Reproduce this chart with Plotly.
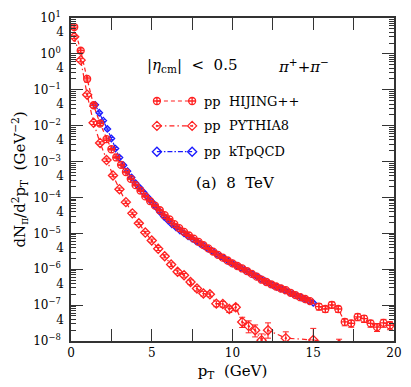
import plotly.graph_objects as go

# ---------------- data ----------------
hij_x = [0.2, 0.6, 1.0, 1.4, 1.8, 2.2,
         2.5, 2.8, 3.1, 3.4, 3.7, 4.0, 4.3, 4.6, 4.9, 5.2, 5.5, 5.8, 6.1, 6.4,
         6.7, 7.0, 7.3, 7.6, 7.9, 8.2, 8.5, 8.8, 9.1, 9.4, 9.7, 10.0, 10.3, 10.6,
         10.9, 11.2, 11.5, 11.8, 12.1, 12.4, 12.7, 13.0, 13.3, 13.6, 13.9, 14.2,
         14.5, 14.8,
         15.35, 15.75, 16.15, 16.55, 16.95, 17.35, 17.75, 18.15, 18.55, 18.95,
         19.35, 19.75]
hij_y = [5.6, 1.23, 0.20, 0.037, 0.0115, 4.2e-3,
         2.2e-3, 1.3e-3, 8.1e-4, 5.1e-4, 3.3e-4, 2.2e-4, 1.55e-4, 1.07e-4, 7.9e-5,
         5.9e-5, 4.4e-5, 3.2e-5, 2.45e-5, 1.8e-5, 1.4e-5, 1.1e-5, 8.7e-6, 7.1e-6,
         5.8e-6, 4.7e-6, 3.8e-6, 3.1e-6, 2.5e-6, 2.1e-6, 1.75e-6, 1.45e-6, 1.23e-6,
         1.05e-6, 8.9e-7, 7.4e-7, 6.2e-7, 5.1e-7, 4.4e-7, 3.8e-7, 3.3e-7, 2.9e-7,
         2.6e-7, 2.2e-7, 1.9e-7, 1.66e-7, 1.48e-7, 1.29e-7,
         9.1e-8, 7.8e-8, 1.02e-7, 7.8e-8, 3.4e-8, 3.1e-8, 4.7e-8, 4.2e-8, 3.1e-8,
         2.45e-8, 3.2e-8, 2.75e-8]
hij_rel = [0.12, 0.12, 0.12, 0.12, 0.12, 0.08,
           0.05, 0.05, 0.05, 0.05, 0.05, 0.05, 0.05, 0.05, 0.05, 0.06, 0.06, 0.06,
           0.06, 0.06, 0.06, 0.06, 0.06, 0.06, 0.06, 0.06, 0.06, 0.06, 0.06, 0.06,
           0.06, 0.08, 0.08, 0.08, 0.08, 0.08, 0.08, 0.08, 0.1, 0.1, 0.1, 0.1, 0.1,
           0.1, 0.1, 0.1, 0.1, 0.12,
           0.2, 0.2, 0.2, 0.2, 0.22, 0.22, 0.22, 0.22, 0.22, 0.25, 0.25, 0.25]

pyt_x = [0.2, 0.6, 1.0, 1.4, 1.8, 2.2, 2.6, 3.0, 3.4, 3.8, 4.2, 4.6, 5.0, 5.4,
         5.8, 6.2, 6.6, 7.0, 7.4, 7.8, 8.2, 8.6, 9.0, 9.4, 9.8, 10.2, 10.6, 11.0,
         11.4, 11.8, 12.2, 13.3, 15.0, 16.6]
pyt_y = [3.0, 0.67, 0.073, 0.012, 3.3e-3, 1.1e-3, 4.1e-4, 1.7e-4, 7.4e-5, 3.6e-5,
         1.9e-5, 1.05e-5, 6.3e-6, 3.7e-6, 2.3e-6, 1.35e-6, 8.5e-7, 6.8e-7, 4.4e-7,
         2.9e-7, 2.1e-7, 2.0e-7, 1.1e-7, 1.07e-7, 7.8e-8, 8.7e-8, 3.4e-8, 2.6e-8,
         2.0e-8, 1.05e-8, 2.0e-8, 1.2e-8, 1.07e-8, 8.0e-9]
pyt_rel_up = [0.1, 0.1, 0.1, 0.1, 0.08, 0.08, 0.08, 0.08, 0.08, 0.08, 0.08, 0.08,
              0.1, 0.1, 0.1, 0.12, 0.12, 0.12, 0.15, 0.15, 0.15, 0.15, 0.18, 0.18,
              0.2, 0.2, 0.35, 0.4, 0.4, 0.5, 0.6, 0.5, 1.1, 0.4]
pyt_rel_dn = [0.1, 0.1, 0.1, 0.1, 0.08, 0.08, 0.08, 0.08, 0.08, 0.08, 0.08, 0.08,
              0.1, 0.1, 0.1, 0.12, 0.12, 0.12, 0.15, 0.15, 0.15, 0.15, 0.18, 0.18,
              0.2, 0.2, 0.3, 0.35, 0.35, 0.4, 0.4, 0.4, 0.4, 0.4]

ktp_x = [1.5, 1.75, 2.0, 2.25, 2.5, 2.75, 3.0, 3.25, 3.5, 3.75, 4.0, 4.25, 4.5,
         4.75, 5.0, 5.25, 5.5, 5.75, 6.0, 6.25, 6.5, 6.75, 7.0, 7.25, 7.5, 7.75,
         8.0, 8.25, 8.5, 8.75, 9.0, 9.25, 9.5, 9.75, 10.0, 10.25, 10.5, 10.75,
         11.0, 11.25, 11.5, 11.75, 12.0, 12.25, 12.5, 12.75, 13.0, 13.25, 13.5,
         13.75, 14.0, 14.25, 14.5, 14.75, 15.0]
ktp_y = [0.038, 0.0229, 0.0138, 8.1e-3, 4.4e-3, 2.3e-3, 1.29e-3, 7.9e-4, 5.4e-4,
         3.6e-4, 2.5e-4, 1.86e-4, 1.38e-4, 1.02e-4, 7.6e-5, 5.5e-5, 4.0e-5,
         2.95e-5, 2.3e-5, 1.78e-5, 1.48e-5, 1.2e-5, 1.0e-5, 8.3e-6, 7.1e-6, 6.0e-6,
         5.1e-6, 4.4e-6, 3.7e-6, 3.2e-6, 2.7e-6, 2.3e-6, 1.95e-6, 1.66e-6, 1.45e-6,
         1.26e-6, 1.1e-6, 9.5e-7, 8.3e-7, 7.2e-7, 6.3e-7, 5.4e-7, 4.7e-7, 4.1e-7,
         3.6e-7, 3.2e-7, 2.9e-7, 2.6e-7, 2.3e-7, 2.05e-7, 1.8e-7, 1.62e-7, 1.45e-7,
         1.29e-7, 1.15e-7]
ktp_rel = [0.06] * len(ktp_y)

legend_names = ["pp  HIJING++", "pp  PYTHIA8", "pp  kTpQCD"]

decade_vals = [1e1, 1e0, 1e-1, 1e-2, 1e-3, 1e-4, 1e-5, 1e-6, 1e-7, 1e-8]
decade_text = ["10<sup>1</sup>", "10<sup>0</sup>", "10<sup>\u22121</sup>",
               "10<sup>\u22122</sup>", "10<sup>\u22123</sup>", "10<sup>\u22124</sup>",
               "10<sup>\u22125</sup>", "10<sup>\u22126</sup>", "10<sup>\u22127</sup>",
               "10<sup>\u22128</sup>"]
four_vals = [4e0, 4e-1, 4e-2, 4e-3, 4e-4, 4e-5, 4e-6, 4e-7, 4e-8]
x_ticks = [0, 5, 10, 15, 20]

# ---------------- style ----------------
RED = "#ff2020"
BLUE = "#1a1aff"
AX = "#333333"
FONT = "DejaVu Serif"
minor_y = [m * d for d in [1e0, 1e-1, 1e-2, 1e-3, 1e-4, 1e-5, 1e-6, 1e-7, 1e-8]
           for m in [2, 3, 4, 5, 6, 7, 8, 9]]

def errs(vals, rel):
    return [v * r for v, r in zip(vals, rel)]

fig = go.Figure()

fig.add_trace(go.Scatter(
    x=ktp_x, y=ktp_y, mode="lines+markers", showlegend=False,
    line=dict(color=BLUE, width=1.2, dash="5px,2px,1.5px,2px"),
    marker=dict(symbol="diamond-open", size=5, color=BLUE, line=dict(width=1.3)),
    error_y=dict(type="data", array=errs(ktp_y, ktp_rel), color=BLUE,
                 thickness=1, width=2)))

fig.add_trace(go.Scatter(
    x=pyt_x, y=pyt_y, mode="lines+markers", showlegend=False,
    line=dict(color=RED, width=1.2, dash="5px,3px,1.5px,3px"),
    marker=dict(symbol="diamond-open-dot", size=7, color=RED, line=dict(width=1.3)),
    error_y=dict(type="data", array=errs(pyt_y, pyt_rel_up),
                 arrayminus=errs(pyt_y, pyt_rel_dn), color=RED,
                 thickness=1, width=3)))

fig.add_trace(go.Scatter(
    x=hij_x, y=hij_y, mode="lines+markers", showlegend=False,
    line=dict(color=RED, width=1.2, dash="4px,3px"),
    marker=dict(symbol="circle-cross-open", size=7, color=RED, line=dict(width=1.3)),
    error_y=dict(type="data", array=errs(hij_y, hij_rel), color=RED,
                 thickness=1, width=3)))

# invisible trace so the overlay axis carrying the "4" labels is drawn
fig.add_trace(go.Scatter(x=[1], y=[1], yaxis="y3", mode="markers",
                         marker=dict(opacity=0), showlegend=False,
                         hoverinfo="skip"))

# legend glyphs drawn on an overlay axis in plot-area fractions
leg_rows = [0.743, 0.666, 0.586]
leg_styles = [
    (RED, "4px,3px", "circle-cross-open"),
    (RED, "5px,3px,1.5px,3px", "diamond-open-dot"),
    (BLUE, "5px,2px,1.5px,2px", "diamond-open"),
]
for yy, (c, d, sym), name in zip(leg_rows, leg_styles, legend_names):
    fig.add_trace(go.Scatter(
        x=[0.266, 0.375], y=[yy, yy], xaxis="x2", yaxis="y2",
        mode="lines+markers", showlegend=False, hoverinfo="skip",
        line=dict(color=c, width=1.2, dash=d),
        marker=dict(symbol=sym, size=7, color=c, line=dict(width=1.3))))
    fig.add_annotation(x=0.405, y=yy, xref="paper", yref="paper", text=name,
                       showarrow=False, xanchor="left", yanchor="middle",
                       font=dict(family=FONT, size=13, color="black"))

fig.add_annotation(x=0.228, y=0.852, xref="paper", yref="paper",
                   text="|<i>\u03b7</i><sub>cm</sub>|  <  0.5", showarrow=False,
                   xanchor="left", yanchor="middle",
                   font=dict(family=FONT, size=15, color="black"))
fig.add_annotation(x=0.635, y=0.852, xref="paper", yref="paper",
                   text="<i>\u03c0</i><sup>+</sup>+<i>\u03c0</i><sup>\u2212</sup>",
                   showarrow=False, xanchor="left", yanchor="middle",
                   font=dict(family=FONT, size=15, color="black"))
fig.add_annotation(x=0.38, y=0.49, xref="paper", yref="paper",
                   text="(a)  8  TeV", showarrow=False,
                   xanchor="left", yanchor="middle",
                   font=dict(family=FONT, size=15, color="black"))

axis_common = dict(showline=True, linecolor=AX, linewidth=1.5,
                   mirror="allticks", ticks="inside", tickcolor=AX,
                   tickwidth=1.3, showgrid=False, zeroline=False)

fig.update_layout(
    width=411, height=387,
    margin=dict(l=71, r=9, t=10, b=46),
    paper_bgcolor="white", plot_bgcolor="white",
    showlegend=False,
    font=dict(family=FONT, size=12, color="black"),
    xaxis=dict(range=[0, 20], tickvals=x_ticks, ticklen=12,
               minor=dict(tickvals=[2.5, 7.5, 12.5, 17.5], ticklen=5,
                          ticks="inside", tickcolor=AX, tickwidth=1.3),
               tickfont=dict(family=FONT, size=12, color="black"),
               title=dict(text="p<sub>T</sub>  (GeV)", standoff=6,
                          font=dict(family=FONT, size=15, color="black")),
               **axis_common),
    yaxis=dict(type="log", range=[-8, 1], tickvals=decade_vals,
               ticktext=decade_text, ticklen=12,
               minor=dict(tickvals=minor_y, ticklen=5, ticks="inside",
                          tickcolor=AX, tickwidth=1.1),
               tickfont=dict(family=FONT, size=12, color="black"),
               ticklabelstandoff=6,
               title=dict(text="dN<sub>\u03c0</sub>/d<sup>2</sup>p<sub>T</sub>  (GeV<sup>\u22122</sup>)",
                          standoff=4, font=dict(family=FONT, size=15, color="black")),
               **axis_common),
    yaxis3=dict(type="log", range=[-8, 1], overlaying="y", anchor="x", side="left",
                tickvals=four_vals, ticktext=["4"] * len(four_vals), ticks="",
                showline=False, showgrid=False, zeroline=False,
                ticklabelstandoff=6,
                tickfont=dict(family=FONT, size=12, color="black")),
    xaxis2=dict(range=[0, 1], overlaying="x", visible=False),
    yaxis2=dict(range=[0, 1], overlaying="y", visible=False),
)

fig.write_html("out.html",
               config={"displayModeBar": False},
               post_script="document.body.style.margin='0';"
                           "document.body.style.padding='0';")
